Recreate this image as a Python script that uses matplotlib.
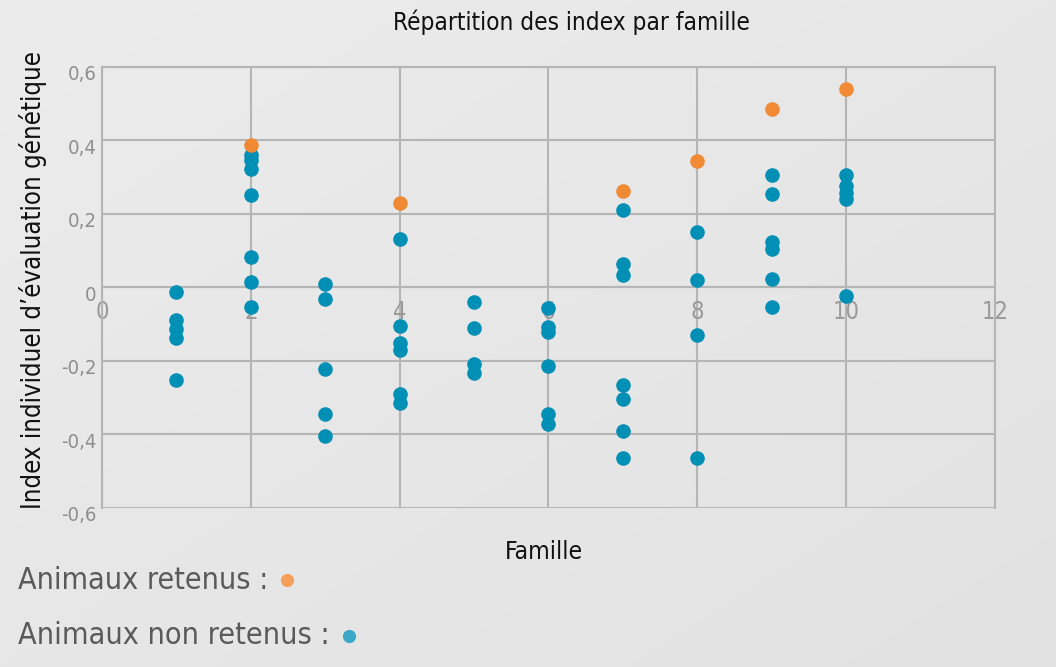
import numpy as np
import matplotlib
matplotlib.use("Agg")
import matplotlib.pyplot as plt
import matplotlib.transforms as mtrans
from matplotlib import font_manager

# police condensée si disponible, sinon Liberation Sans
cond = [f for f in font_manager.fontManager.ttflist
        if ("condensed" in f.fname.lower() or "narrow" in f.fname.lower())
        and "mono" not in f.fname.lower() and "serif" not in f.fname.lower()
        and f.weight in (400, "normal", "regular") and f.style == "normal"]
if cond:
    FONT = [cond[0].name, "DejaVu Sans"]
    plt.rcParams["font.stretch"] = cond[0].stretch
else:
    FONT = ["Liberation Sans", "DejaVu Sans"]
plt.rcParams["font.family"] = FONT

# animaux retenus (un par famille)
fam_retenus = [2, 4, 7, 8, 9, 10]
idx_retenus = [0.387, 0.230, 0.262, 0.343, 0.486, 0.540]

# animaux non retenus
fam_non_retenus = ([1] * 5 + [2] * 7 + [3] * 5 + [4] * 6 + [5] * 4
                   + [6] * 6 + [7] * 7 + [8] * 4 + [9] * 6 + [10] * 5)
idx_non_retenus = [
    -0.011, -0.089, -0.113, -0.137, -0.252,
    0.361, 0.347, 0.322, 0.251, 0.082, 0.014, -0.053,
    0.010, -0.032, -0.223, -0.343, -0.404,
    0.133, -0.104, -0.150, -0.171, -0.290, -0.313,
    -0.039, -0.109, -0.209, -0.233,
    -0.055, -0.107, -0.120, -0.214, -0.345, -0.371,
    0.210, 0.063, 0.035, -0.265, -0.304, -0.390, -0.465,
    0.152, 0.019, -0.129, -0.465,
    0.307, 0.255, 0.125, 0.104, 0.024, -0.052,
    0.306, 0.275, 0.257, 0.240, -0.024,
]

x_ticks = [0, 2, 4, 6, 8, 10, 12]
y_ticks = [-0.6, -0.4, -0.2, 0, 0.2, 0.4, 0.6]
y_labels = ["-0,6", "-0,4", "-0,2", "0", "0,2", "0,4", "0,6"]

fig = plt.figure(figsize=(10.56, 6.67), dpi=100)
fig.patch.set_facecolor("#e7e7e7")

# léger dégradé de fond
bg = fig.add_axes([0, 0, 1, 1], zorder=-5)
grad = np.linspace(0, 1, 256)[None, :] + np.linspace(0, 1, 256)[:, None]
bg.imshow(grad, cmap=matplotlib.colors.LinearSegmentedColormap.from_list(
    "g", ["#ececec", "#e2e2e2"]), aspect="auto", extent=[0, 1, 0, 1])
bg.axis("off")

ax = fig.add_axes([0.0966, 0.2384, 0.8456, 0.6612])
ax.set_facecolor("none")

grid_col = "#b5b5b5"
ax.plot(fam_non_retenus, idx_non_retenus, "o", color="#008fb5",
        markersize=10.5, markeredgewidth=0, zorder=3, clip_on=False)
ax.plot(fam_retenus, idx_retenus, "o", color="#f08a35",
        markersize=10.5, markeredgewidth=0, zorder=3, clip_on=False)

ax.set_xlim(0, 12)
ax.set_ylim(-0.6, 0.6)
ax.set_xticks(x_ticks)
ax.set_yticks(y_ticks)
ax.set_yticklabels(y_labels)
ax.grid(True, color=grid_col, linewidth=1.5, zorder=0)
ax.set_axisbelow(True)

for s in ax.spines.values():
    s.set_color(grid_col)
    s.set_linewidth(1.5)
ax.spines["bottom"].set_position(("data", 0))

ax.tick_params(axis="x", length=0, pad=9, labelsize=20, labelcolor="#9a9a9a")
ax.tick_params(axis="y", length=0, pad=4, labelsize=18, labelcolor="#8e8e8e")

title = fig.text(0.541, 0.967, "Répartition des index par famille",
                 ha="center", va="center", fontsize=21, color="#111111")
ylab = fig.text(0.031, 0.58, "Index individuel d’évaluation génétique",
                rotation=90, ha="center", va="center", fontsize=23,
                color="#111111")
xlab = fig.text(0.515, 0.172, "Famille", ha="center", va="center",
                fontsize=20, color="#111111")
leg1 = fig.text(0.017, 0.130, "Animaux retenus :", ha="left", va="center",
                fontsize=27, color="#5a5a5a")
leg2 = fig.text(0.017, 0.0465, "Animaux non retenus :", ha="left",
                va="center", fontsize=27, color="#5a5a5a")

fig.canvas.draw()
r = fig.canvas.get_renderer()


def fit(t, target, vertical=False):
    bb = t.get_window_extent(renderer=r)
    size = bb.height if vertical else bb.width
    t.set_fontsize(t.get_fontsize() * target / size)


fit(title, 358)
fit(ylab, 460, vertical=True)
fit(xlab, 78)
fit(leg1, 250)
fit(leg2, 310)

# taille des graduations ajustée sur la largeur de "12" et "0,6"
xl = [t for t in ax.get_xticklabels() if t.get_text() == "12"][0]
yl = [t for t in ax.get_yticklabels() if t.get_text() == "0,6"][0]
xs = 20 * 27 / xl.get_window_extent(renderer=r).width
ys = 18 * 29 / yl.get_window_extent(renderer=r).width
ax.tick_params(axis="x", labelsize=xs)
ax.tick_params(axis="y", labelsize=ys)
off = mtrans.ScaledTranslation(0, -4 / 72, fig.dpi_scale_trans)
for t in ax.get_yticklabels():
    t.set_transform(t.get_transform() + off)

fig.canvas.draw()
# pastilles de légende
for t, col in [(leg1, "#f5a05a"), (leg2, "#3aa6c8")]:
    bb = t.get_window_extent(renderer=r)
    xm = (bb.x1 + 19) / fig.bbox.width
    yy = t.get_position()[1]
    fig.add_artist(matplotlib.lines.Line2D([xm], [yy], marker="o",
                   markersize=9.5, color=col, markeredgewidth=0,
                   transform=fig.transFigure))

fig.savefig("out.png", dpi=100, facecolor=fig.get_facecolor())
